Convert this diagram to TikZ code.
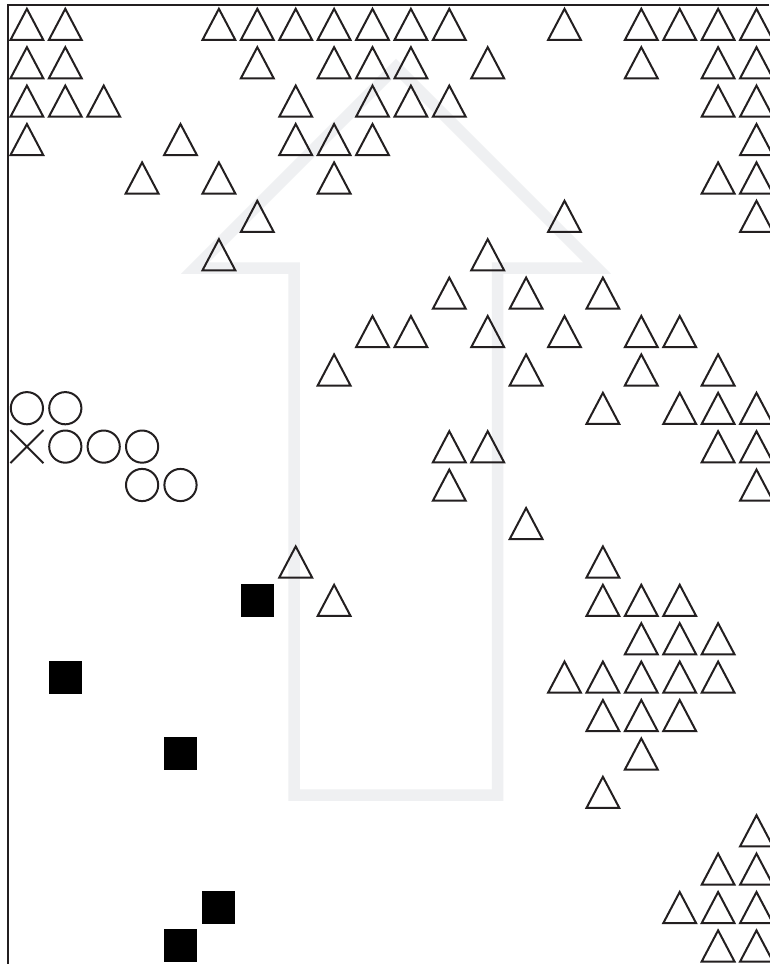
\documentclass[tikz,border=0pt]{standalone}
\definecolor{arrowgray}{RGB}{239,240,242}
\definecolor{symink}{RGB}{35,31,32}
\begin{document}
\begin{tikzpicture}[x=1pt,y=-1pt,
  symline/.style={draw=symink, line width=2.0pt, line join=miter},
  symtri/.pic={\draw[symline] (0,-15.4) -- (-16.4,15.7) -- (16.4,15.7) -- cycle;},
  symcirc/.pic={\draw[symline] (0,0) circle (16.1);},
  symcross/.pic={\draw[symline] (-16.5,-16.5) -- (16.5,16.5) (-16.5,16.5) -- (16.5,-16.5);},
  symsq/.pic={\fill[black] (-16.5,-16.5) rectangle (16.5,16.5);},
  framestyle/.style={draw=symink, line width=2.0pt},
  arrowstyle/.style={draw=arrowgray, line width=11.5pt, line join=miter}
]
\useasboundingbox (0,0) rectangle (769,964);
\fill[white] (0,0) rectangle (769,964);
% big light arrow in the background
\draw[arrowstyle] (294,795) -- (294,268) -- (195,268) -- (396,67) -- (597,268) -- (497.5,268) -- (497.5,795) -- cycle;
% frame
\draw[framestyle] (769,5) -- (7.5,5) -- (7.5,964);
% triangles by row
\foreach \r/\cs in {
  0/{0,1,5,6,7,8,9,10,11,14,16,17,18,19},
  1/{0,1,6,8,9,10,12,16,18,19},
  2/{0,1,2,7,9,10,11,18,19},
  3/{0,4,7,8,9,19},
  4/{3,5,8,18,19},
  5/{6,14,19},
  6/{5,12},
  7/{11,13,15},
  8/{9,10,12,14,16,17},
  9/{8,13,16,18},
  10/{15,17,18,19},
  11/{11,12,18,19},
  12/{11,19},
  13/{13},
  14/{7,15},
  15/{8,15,16,17},
  16/{16,17,18},
  17/{14,15,16,17,18},
  18/{15,16,17},
  19/{16},
  20/{15},
  21/{19},
  22/{18,19},
  23/{17,18,19},
  24/{18,19}}{
  \foreach \c in \cs {
    \pic at ({26.9+38.4*\c},{24.2+38.4*\r}) {symtri};
  }
}
% circles
\foreach \c/\r in {0/10,1/10,1/11,2/11,3/11,3/12,4/12}{
  \pic at ({26.9+38.4*\c},{24.2+38.4*\r}) {symcirc};
}
% cross
\pic at ({26.9+38.4*0},{24.2+38.4*11}) {symcross};
% squares
\foreach \c/\r in {6/15,1/17,4/19,5/23,4/24}{
  \pic at ({26.9+38.4*\c},{24.2+38.4*\r}) {symsq};
}
\end{tikzpicture}
\end{document}
